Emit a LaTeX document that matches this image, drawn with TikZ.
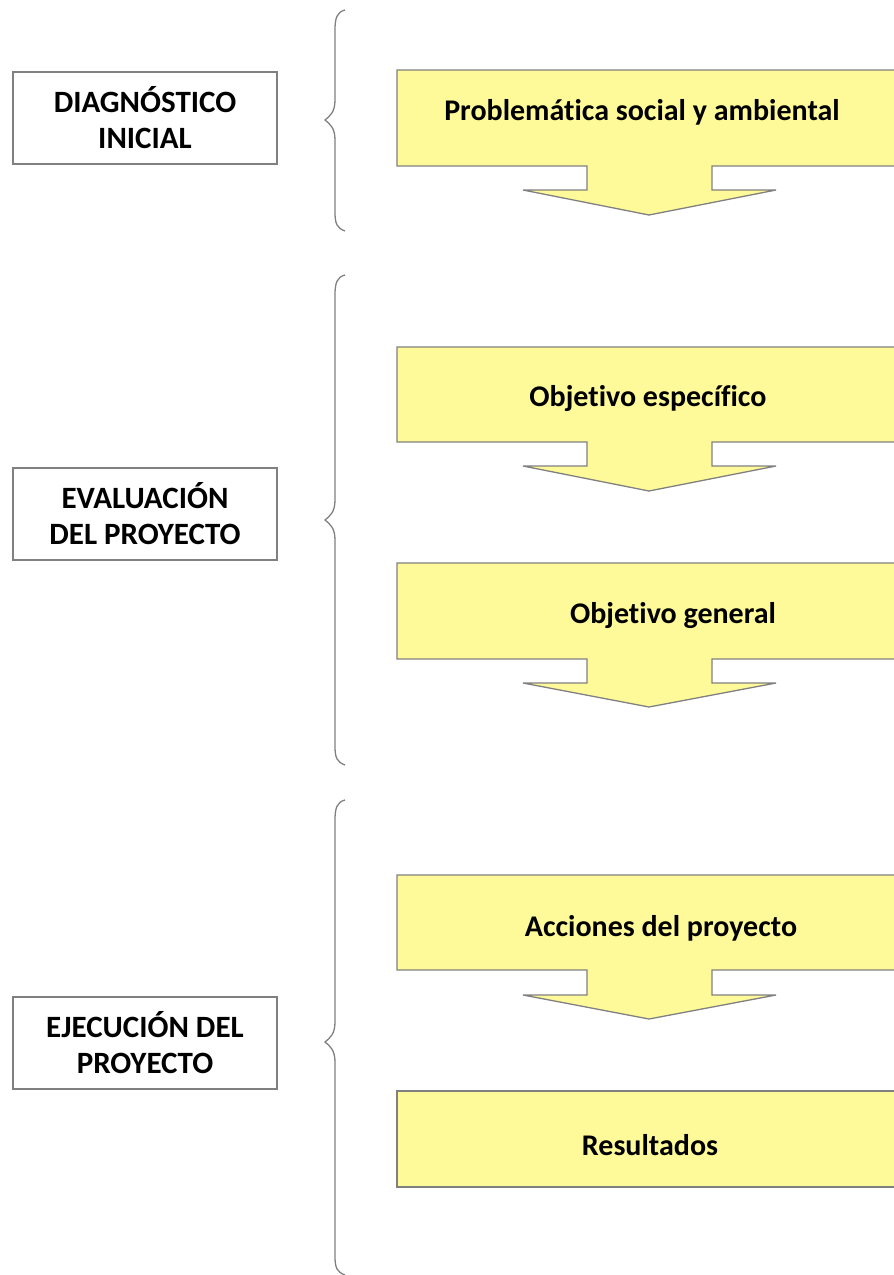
\documentclass[tikz,border=0pt]{standalone}
\usepackage{fontspec}
\setmainfont[Ligatures=NoCommon]{Carlito}
\begin{document}
\begin{tikzpicture}[x=1pt,y=-1pt,
  phase/.style={draw=black!50,line width=1.3pt,fill=white,minimum width=264pt,minimum height=92pt,align=center,inner sep=0pt,font=\fontsize{31}{36}\selectfont\bfseries},
  flowshape/.style={draw=black!50,line width=1.3pt,fill=yellow!40,line join=miter},
  flowtext/.style={font=\fontsize{30}{36}\selectfont\bfseries,inner sep=0pt},
  bracestyle/.style={draw=black!50,line width=1.3pt}]
\useasboundingbox (0,0) rectangle (894,1275);
\begin{scope}
\clip (0,0) rectangle (894,1275);
% phase boxes
\node[phase] (diag) at (145,118) {DIAGNÓSTICO\\INICIAL};
\node[phase] (eval) at (145,514) {EVALUACIÓN\\DEL PROYECTO};
\node[phase] (ejec) at (145,1043) {EJECUCIÓN DEL\\PROYECTO};
% braces
\draw[bracestyle] (345,10) .. controls (337,12) and (335,18) .. (335,30) -- (335,100) .. controls (335,112) and (330,116) .. (325,120) .. controls (330,124) and (335,128) .. (335,140) -- (335,212) .. controls (335,224) and (337,228) .. (345,231);
\draw[bracestyle] (345,275) .. controls (337,277) and (335,283) .. (335,295) -- (335,500) .. controls (335,512) and (330,516) .. (325,520) .. controls (330,524) and (335,528) .. (335,540) -- (335,746) .. controls (335,758) and (337,762) .. (345,765);
\draw[bracestyle] (345,800) .. controls (337,802) and (335,808) .. (335,820) -- (335,1022) .. controls (335,1034) and (330,1038) .. (325,1042) .. controls (330,1046) and (335,1050) .. (335,1062) -- (335,1256) .. controls (335,1268) and (337,1272) .. (345,1275);
% arrow shapes
\foreach \t/\b/\w/\p in {70/166/190/215, 347/442/466/491, 563/659/683/707, 875/970/995/1019}{
  \draw[flowshape] (397,\t) -- (905,\t) -- (905,\b) -- (712,\b) -- (712,\w) -- (776,\w) -- (649,\p) -- (523,\w) -- (587,\w) -- (587,\b) -- (397,\b) -- cycle;
}
\draw[flowshape] (397,1091) rectangle (905,1187);
\end{scope}
% texts
\node[flowtext] (prob) at (642,112) {Problemática social y ambiental};
\node[flowtext] (oesp) at (648,399) {Objetivo específico};
\node[flowtext] (ogen) at (673,616) {Objetivo general};
\node[flowtext] (acc) at (661,928) {Acciones del proyecto};
\node[flowtext] (res) at (650,1145) {Resultados};
\end{tikzpicture}
\end{document}
